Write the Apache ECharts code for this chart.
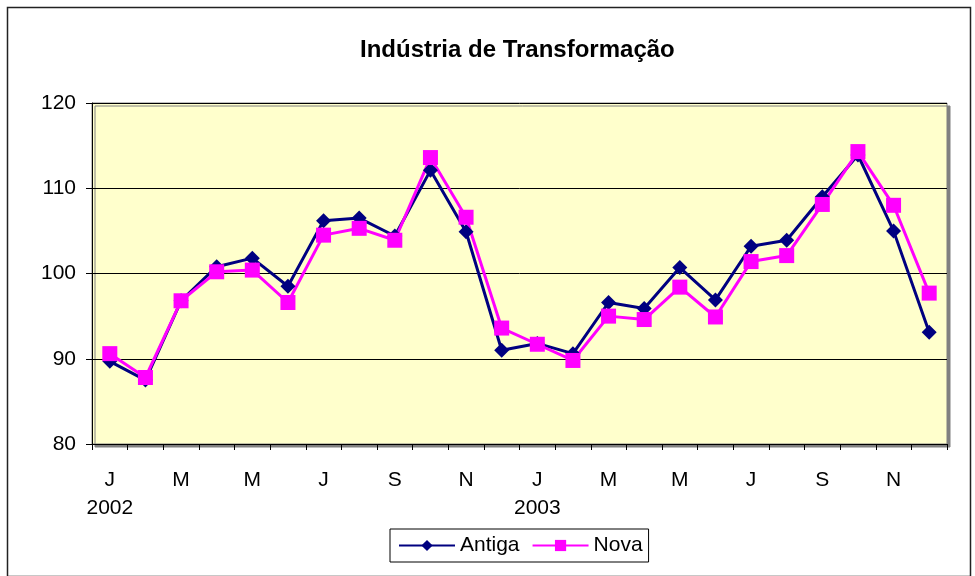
<!DOCTYPE html>
<html>
<head>
<meta charset="utf-8">
<script src="https://cdn.jsdelivr.net/npm/echarts@6/dist/echarts.min.js"></script>
<style>
html,body{margin:0;padding:0;background:#fff;}
#chart{width:975px;height:576px;}
</style>
</head>
<body>
<div id="chart"></div>
<script>
const months = ['J','F','M','A','M','J','J','A','S','O','N','D','J','F','M','A','M','J','J','A','S','O','N','D'];
const yearLabels = {0: '2002', 12: '2003'};
const antiga = [89.7, 87.5, 96.8, 100.8, 101.8, 98.5, 106.2, 106.5, 104.4, 112.1, 104.9, 91.0,
                91.8, 90.6, 96.6, 95.9, 100.7, 96.9, 103.2, 103.9, 109.0, 113.9, 105.0, 93.1];
const nova = [90.6, 87.8, 96.8, 100.2, 100.4, 96.6, 104.5, 105.3, 103.9, 113.6, 106.6, 93.6,
              91.7, 89.8, 95.0, 94.6, 98.4, 94.9, 101.4, 102.1, 108.1, 114.3, 108.0, 97.7];
const titleText = 'Indústria de Transformação';
const yTicks = {min: 80, max: 120, interval: 10};

const font = '"Liberation Sans", Arial, sans-serif';
const chart = echarts.init(document.getElementById('chart'));
chart.setOption({
  animation: false,
  backgroundColor: '#ffffff',
  textStyle: {fontFamily: font},
  title: {
    text: titleText,
    left: 355, top: 33,
    textStyle: {fontFamily: font, fontSize: 24, fontWeight: 'bold', color: '#000'}
  },
  graphic: [{
    type: 'rect', left: 5, top: 5, z: -10,
    shape: {width: 963, height: 569},
    style: {fill: 'none', stroke: '#222', lineWidth: 1.5}
  }],
  legend: {
    data: ['Antiga', 'Nova'],
    left: 390, top: 529,
    itemWidth: 56, itemHeight: 14, itemGap: 12,
    padding: [6, 6, 6, 8],
    borderColor: '#000', borderWidth: 1,
    textStyle: {fontFamily: font, fontSize: 21, color: '#000'}
  },
  grid: {
    left: 92, top: 103, right: 28, bottom: 132,
    show: true, backgroundColor: '#FFFFCC',
    borderColor: '#808080', borderWidth: 1,
    shadowColor: '#808080', shadowOffsetX: 3, shadowOffsetY: 3, shadowBlur: 0
  },
  xAxis: {
    type: 'category', data: months, boundaryGap: true,
    axisLine: {lineStyle: {color: '#000', width: 1}},
    axisTick: {show: true, interval: 0, length: 6, lineStyle: {color: '#000'}},
    axisLabel: {
      interval: 1, margin: 22, fontSize: 21, lineHeight: 28, color: '#000', fontFamily: font,
      formatter: function (v, i) { return yearLabels[i] ? v + '\n' + yearLabels[i] : v; }
    },
    splitLine: {show: false}
  },
  yAxis: {
    type: 'value', min: yTicks.min, max: yTicks.max, interval: yTicks.interval,
    axisLine: {show: true, lineStyle: {color: '#000', width: 1}},
    axisTick: {show: true, length: 6, lineStyle: {color: '#000'}},
    axisLabel: {fontSize: 21, color: '#000', margin: 16, fontFamily: font},
    splitLine: {show: true, lineStyle: {color: '#000', width: 1}}
  },
  series: [
    {
      name: 'Antiga', type: 'line', data: antiga,
      symbol: 'diamond', symbolSize: 15,
      lineStyle: {color: '#000080', width: 3},
      itemStyle: {color: '#000080'}
    },
    {
      name: 'Nova', type: 'line', data: nova,
      symbol: 'rect', symbolSize: 15,
      lineStyle: {color: '#FF00FF', width: 3},
      itemStyle: {color: '#FF00FF'}
    }
  ]
});
</script>
</body>
</html>
